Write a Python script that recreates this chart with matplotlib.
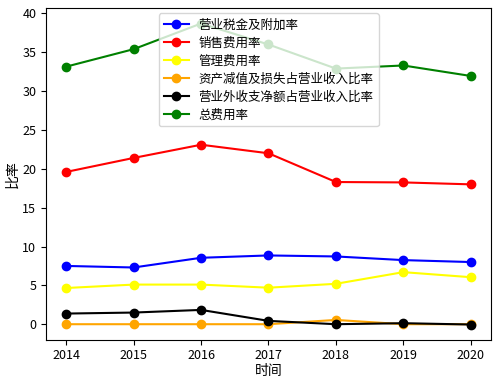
import matplotlib
matplotlib.use("Agg")
import matplotlib.pyplot as plt

plt.rcParams['font.family'] = ['Noto Sans CJK SC', 'DejaVu Sans']
plt.rcParams['axes.unicode_minus'] = False

years = [2014, 2015, 2016, 2017, 2018, 2019, 2020]
tax = [7.5, 7.3, 8.55, 8.85, 8.72, 8.25, 8.0]
sales = [19.6, 21.4, 23.1, 22.0, 18.3, 18.25, 18.0]
admin = [4.66, 5.1, 5.1, 4.7, 5.2, 6.7, 6.05]
impair = [0.0, 0.0, 0.0, 0.0, 0.55, 0.0, 0.0]
nonop = [1.37, 1.5, 1.84, 0.43, 0.0, 0.13, -0.04]
total = [33.15, 35.4, 38.7, 36.0, 32.9, 33.3, 31.95]

names = ['营业税金及附加率', '销售费用率', '管理费用率', '资产减值及损失占营业收入比率', '营业外收支净额占营业收入比率', '总费用率']
series = [tax, sales, admin, impair, nonop, total]
colors = ['blue', 'red', 'yellow', 'orange', 'black', 'green']

fig, ax = plt.subplots(figsize=(5, 3.85), dpi=100)
for s, n, c in zip(series, names, colors):
    ax.plot(years, s, marker='o', color=c, label=n)
ax.set_xlabel('时间', labelpad=1)
ax.set_ylabel('比率', labelpad=2)
ax.tick_params(labelsize=9)
ax.legend(loc='upper center', fontsize=9, labelspacing=0.4, borderaxespad=0.4)
fig.subplots_adjust(left=0.092, right=0.982, top=0.978, bottom=0.118)
fig.savefig('out.png', dpi=100)
